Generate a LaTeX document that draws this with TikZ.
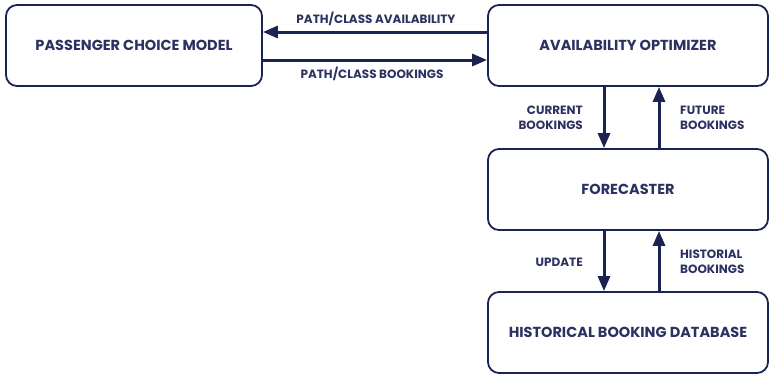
\documentclass[tikz,border=0pt]{standalone}
\usepackage{fontspec}
\setmainfont{Poppins}
\usetikzlibrary{arrows.meta}
\definecolor{navy}{HTML}{1B2352}
\definecolor{inktext}{HTML}{2B3262}
\begin{document}
\begin{tikzpicture}[x=1pt,y=-1pt,
  block/.style={draw=navy, line width=1.8pt, rounded corners=11pt, fill=white},
  blocktext/.style={text=inktext, font=\bfseries\fontsize{14.5}{16}\selectfont},
  flow/.style={draw=navy, line width=3pt, -{Triangle[length=15pt,width=12pt]}},
  flowlabel/.style={text=inktext, font=\bfseries\fontsize{12}{15}\selectfont, inner sep=0pt}]
\useasboundingbox (0,0) rectangle (770,375);
% boxes
\node[block, minimum width=256pt, minimum height=81pt] (pcm) at (134,45.5) {};
\node[blocktext] at (pcm.center) {PASSENGER CHOICE MODEL};
\node[block, minimum width=280pt, minimum height=81pt] (ao) at (628,45.5) {};
\node[blocktext] at (ao.center) {AVAILABILITY OPTIMIZER};
\node[block, minimum width=280pt, minimum height=81pt] (fc) at (628,189.5) {};
\node[blocktext] at (fc.center) {FORECASTER};
\node[block, minimum width=280pt, minimum height=81pt] (hb) at (628,332.5) {};
\node[blocktext] at (hb.center) {HISTORICAL BOOKING DATABASE};
% horizontal connectors
\coordinate (aoL1) at (ao.west |- 0,32);
\coordinate (pcmR1) at (pcm.east |- 0,32);
\coordinate (pcmR2) at (pcm.east |- 0,60);
\coordinate (aoL2) at (ao.west |- 0,60);
\draw[flow] (aoL1) -- (pcmR1);
\draw[flow] (pcmR2) -- (aoL2);
\node[flowlabel] (lavail) at (376,19) {PATH/CLASS AVAILABILITY};
\node[flowlabel] (lbook) at (372,74) {PATH/CLASS BOOKINGS};
% vertical connectors
\coordinate (a1) at (604,0);
\coordinate (a2) at (659,0);
\draw[flow] (a1 |- ao.south) -- (a1 |- fc.north);
\draw[flow] (a2 |- fc.north) -- (a2 |- ao.south);
\draw[flow] (a1 |- fc.south) -- (a1 |- hb.north);
\draw[flow] (a2 |- hb.north) -- (a2 |- fc.south);
\node[flowlabel, anchor=east, align=right] (lcur) at (583,118) {CURRENT\\BOOKINGS};
\node[flowlabel, anchor=west, align=left] (lfut) at (680,118) {FUTURE\\BOOKINGS};
\node[flowlabel, anchor=east] (lupd) at (583,262) {UPDATE};
\node[flowlabel, anchor=west, align=left] (lhist) at (680,262) {HISTORIAL\\BOOKINGS};
\end{tikzpicture}
\end{document}
